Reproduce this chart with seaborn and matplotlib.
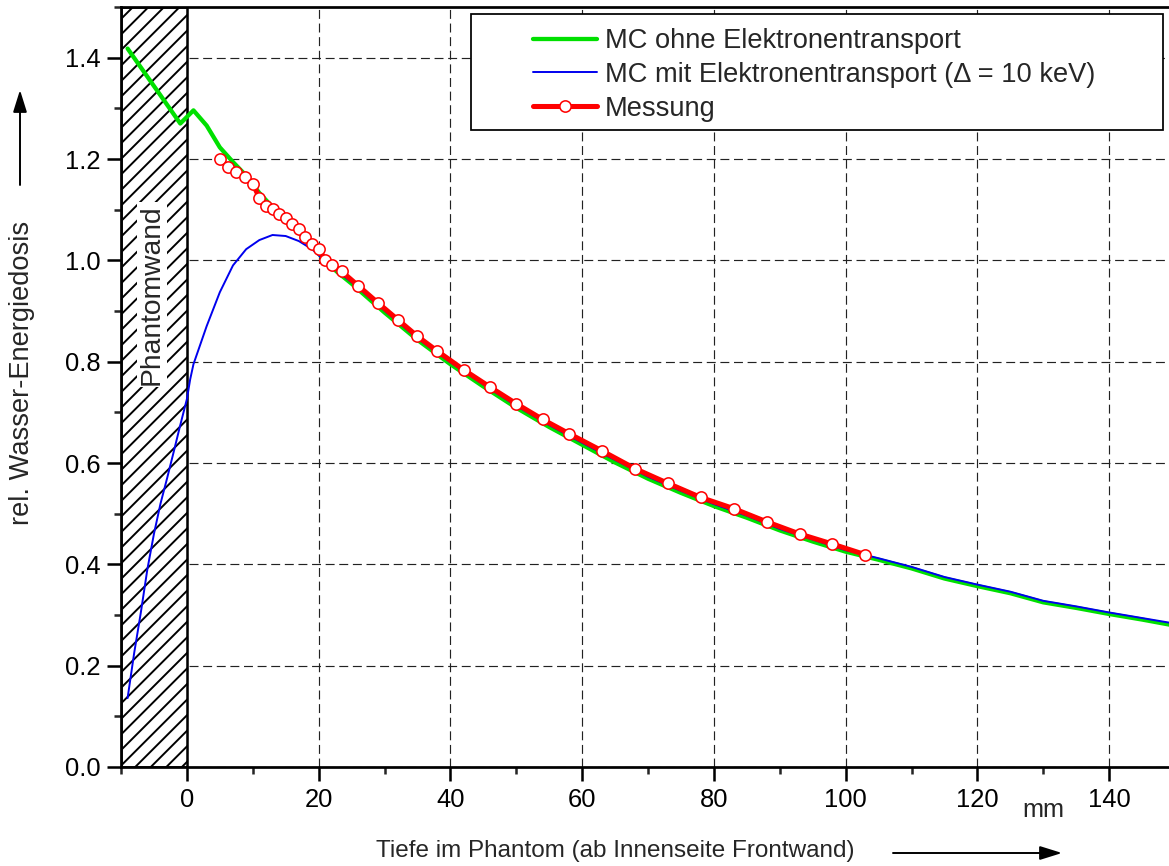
import numpy as np
import matplotlib
matplotlib.use("Agg")
import matplotlib.pyplot as plt
from matplotlib.patches import Rectangle
from matplotlib.ticker import MultipleLocator, FormatStrFormatter
import seaborn as sns

# --- data -------------------------------------------------------------
# Monte-Carlo without electron transport (depth in mm, relative dose)
mc_ohne_x = [-9, -7, -5, -3, -1, 1, 3, 5, 7, 9, 11, 13, 15, 17, 19, 21, 23, 25,
             30, 35, 40, 45, 50, 55, 60, 65, 70, 75, 80, 85, 90, 95, 100,
             105, 110, 115, 120, 125, 130, 135, 140, 145, 150]
mc_ohne_y = [1.418, 1.381, 1.344, 1.307, 1.270, 1.296, 1.266, 1.223, 1.194, 1.167,
             1.133, 1.105, 1.077, 1.055, 1.030, 0.998, 0.975, 0.954,
             0.897, 0.843, 0.795, 0.751, 0.709, 0.671, 0.636, 0.601, 0.569,
             0.541, 0.515, 0.492, 0.467, 0.445, 0.425,
             0.409, 0.392, 0.372, 0.357, 0.343, 0.325, 0.314, 0.302, 0.291, 0.279]

# Monte-Carlo with electron transport (Delta = 10 keV)
mc_mit_x = [-9, -8, -7, -6, -5, -4, -3, -2, -1, 0, 0.5, 1, 3, 5, 7, 9, 11, 13, 15,
            17, 19, 21, 23, 25, 30, 35, 40, 45, 50, 55, 60, 65, 70, 75, 80, 85,
            90, 95, 100, 105, 110, 115, 120, 125, 130, 135, 140, 145, 150]
mc_mit_y = [0.136, 0.225, 0.304, 0.390, 0.460, 0.520, 0.570, 0.622, 0.675, 0.726,
            0.765, 0.795, 0.870, 0.937, 0.990, 1.022, 1.040, 1.050, 1.048,
            1.038, 1.022, 0.998, 0.977, 0.957, 0.901, 0.846, 0.799, 0.755, 0.713,
            0.675, 0.640, 0.606, 0.573, 0.545, 0.519, 0.496, 0.470, 0.449, 0.428,
            0.412, 0.395, 0.375, 0.360, 0.346, 0.328, 0.317, 0.305, 0.294, 0.283]

# Measurement
mess_x = [5, 6.25, 7.5, 8.75, 10, 11, 12, 13, 14, 15, 16, 17, 18, 19, 20, 21, 22,
          23.5, 26, 29, 32, 35, 38, 42, 46, 50, 54, 58, 63, 68, 73, 78, 83, 88,
          93, 98, 103]
mess_y = [1.200, 1.185, 1.174, 1.165, 1.151, 1.124, 1.107, 1.101, 1.091, 1.083,
          1.072, 1.061, 1.047, 1.032, 1.022, 1.001, 0.991, 0.978, 0.950, 0.916,
          0.883, 0.850, 0.821, 0.784, 0.750, 0.717, 0.686, 0.658, 0.624, 0.589,
          0.560, 0.532, 0.510, 0.484, 0.460, 0.440, 0.419]

labels = ["MC ohne Elektronentransport",
          "MC mit Elektronentransport (\u0394 = 10 keV)",
          "Messung"]
wall = (-10, 0)
x_ticks = [0, 20, 40, 60, 80, 100, 120, 140]
y_ticks = [0.0, 0.2, 0.4, 0.6, 0.8, 1.0, 1.2, 1.4]

# --- style ------------------------------------------------------------
sns.set_style("white")
plt.rcParams["font.family"] = ["Liberation Sans", "DejaVu Sans"]
plt.rcParams["hatch.linewidth"] = 1.0
plt.rcParams["lines.scale_dashes"] = False

W, H, DPI = 1169, 866, 140
fig = plt.figure(figsize=(W / DPI, H / DPI), dpi=DPI)
ax = fig.add_axes([121 / W, 99 / H, (1175 - 121) / W, 760 / H])
ax.set_xlim(-10, 150)
ax.set_ylim(0, 1.5)

# grid
ax.set_axisbelow(True)
ax.grid(True, which="major", color="#222222", lw=0.6, dashes=(4.6, 2.4))

# phantom wall
ax.axvspan(wall[0], wall[1], facecolor="white", edgecolor="black",
           hatch="///", lw=1.3, zorder=1.5)
ax.text(-5.3, 0.933, "Phantomwand", rotation=90, ha="center", va="center",
        fontsize=14.5, zorder=3,
        bbox=dict(facecolor="white", edgecolor="none", pad=1.0))

# curves
sns.lineplot(x=mc_ohne_x, y=mc_ohne_y, ax=ax, color="#00e000", lw=2.2,
             label=labels[0], sort=False, estimator=None, zorder=2.1)
sns.lineplot(x=mc_mit_x, y=mc_mit_y, ax=ax, color="#0000ee", lw=1.0,
             label=labels[1], sort=False, estimator=None, zorder=2.2)
sns.lineplot(x=mess_x, y=mess_y, ax=ax, color="#ff0000", lw=2.6,
             marker="o", markersize=5.8, markerfacecolor="white",
             markeredgecolor="#ff0000", markeredgewidth=0.8,
             label=labels[2], sort=False, estimator=None, zorder=2.3)

# axes, ticks
for side in ["left", "bottom", "top"]:
    ax.spines[side].set_linewidth(1.4)
    ax.spines[side].set_color("black")
ax.spines["right"].set_visible(False)
ax.set_xticks(x_ticks)
ax.set_yticks(y_ticks)
ax.xaxis.set_minor_locator(MultipleLocator(10))
ax.yaxis.set_minor_locator(MultipleLocator(0.1))
ax.yaxis.set_major_formatter(FormatStrFormatter("%.1f"))
ax.tick_params(which="major", direction="out", length=7, width=1.3,
               labelsize=13.2, colors="black", bottom=True, left=True,
               top=False, right=False)
ax.tick_params(axis="x", which="major", pad=4)
ax.tick_params(axis="y", which="major", pad=3.5)
ax.tick_params(which="minor", direction="out", length=3.6, width=1.3,
               bottom=True, left=True, top=False, right=False)
ax.set_xlabel("")
ax.set_ylabel("")

# legend with its own frame
ax.add_patch(Rectangle((471 / W, 1 - 130 / H), 692 / W, 116 / H,
                       transform=fig.transFigure, facecolor="white",
                       edgecolor="black", lw=0.9, zorder=4, clip_on=False))
leg = ax.legend(loc="center left", bbox_to_anchor=(533 / W, 1 - 75 / H),
                bbox_transform=fig.transFigure, frameon=False, borderpad=0,
                borderaxespad=0, handlelength=2.35, handletextpad=0.3,
                labelspacing=0.29, fontsize=14, numpoints=1)
leg.set_zorder(5)

# axis titles with arrows
fig.text(615 / W, 1 - 857 / H, "Tiefe im Phantom (ab Innenseite Frontwand)",
         ha="center", va="baseline", fontsize=12.5)
fig.text(1043 / W, 1 - 817 / H, "mm", ha="center", va="baseline", fontsize=13)
fig.text(22 / W, 1 - 373 / H, "rel. Wasser-Energiedosis", rotation=90,
         ha="center", va="center", fontsize=14)
arrow = dict(arrowstyle="-|>,head_length=0.8,head_width=0.25", lw=1.0,
             color="black", mutation_scale=12, shrinkA=0, shrinkB=0)
ax.annotate("", xy=(1062, 866 - 853), xytext=(893, 866 - 853),
            xycoords="figure pixels", textcoords="figure pixels",
            arrowprops=arrow, annotation_clip=False)
ax.annotate("", xy=(20, 866 - 90), xytext=(20, 866 - 185),
            xycoords="figure pixels", textcoords="figure pixels",
            arrowprops=arrow, annotation_clip=False)

fig.savefig("out.png", dpi=DPI, facecolor="white")
